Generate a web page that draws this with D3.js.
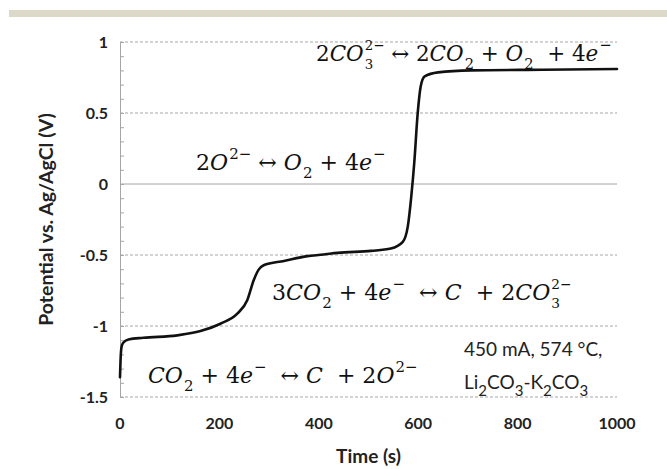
<!DOCTYPE html>
<html>
<head>
<meta charset="utf-8">
<script src="https://cdn.jsdelivr.net/npm/d3@7"></script>
<style>
  body { margin: 0; background: #fff; }
  svg { display: block; }
  text { white-space: pre; }
</style>
</head>
<body>
<div class="chart"></div>
<script>
// values
const timeS = [0, 1, 3, 6, 17, 47, 115, 162, 202, 236, 256, 269, 279, 289, 330, 377, 410, 425, 438, 505, 545, 569, 579, 586, 592, 599, 605, 613, 640, 707, 850, 1000];
const potentialV = [-1.36, -1.25, -1.15, -1.12, -1.095, -1.083, -1.066, -1.036, -0.984, -0.913, -0.819, -0.678, -0.603, -0.572, -0.542, -0.508, -0.497, -0.49, -0.485, -0.471, -0.454, -0.407, -0.30, -0.09, 0.146, 0.499, 0.687, 0.758, 0.786, 0.80, 0.805, 0.81];
const xTicks = [0, 200, 400, 600, 800, 1000];
const yTicks = [1, 0.5, 0, -0.5, -1, -1.5];
const yTickLabels = ["1", "0.5", "0", "-0.5", "-1", "-1.5"];
const xTitle = "Time (s)";
const yTitle = "Potential vs. Ag/AgCl (V)";

const W = 667, H = 469;
const margin = { top: 42, right: 50, bottom: 72, left: 120 };

const svg = d3.select(".chart").append("svg")
  .attr("width", W).attr("height", H);

// beige strip on top
svg.append("rect").attr("x", 9).attr("y", 10).attr("width", W - 9).attr("height", 7)
  .attr("fill", "#ddd9c8");

const xScale = d3.scaleLinear().domain([0, 1000]).range([margin.left, W - margin.right]);
const yScale = d3.scaleLinear().domain([-1.5, 1]).range([H - margin.bottom, margin.top]);

// gridlines
svg.append("g").selectAll("line").data(yTicks).join("line")
  .attr("x1", xScale(0)).attr("x2", xScale(1000))
  .attr("y1", d => yScale(d)).attr("y2", d => yScale(d))
  .attr("stroke", "#a6a6a6").attr("stroke-width", 1)
  .attr("stroke-dasharray", d => d === 0 ? null : "3,2");

// y axis with minor ticks on the inside
const yAxis = d3.axisRight(yScale).tickValues(d3.range(-15, 11).map(d => d / 10))
  .tickSize(4).tickFormat("");
svg.append("g").attr("transform", `translate(${xScale(0)},0)`).call(yAxis)
  .call(g => g.select(".domain").attr("stroke", "#a6a6a6"))
  .call(g => g.selectAll(".tick line").attr("stroke", "#a6a6a6"));

svg.append("g").selectAll("text").data(yTicks).join("text")
  .attr("x", 108).attr("y", d => yScale(d)).attr("dy", "0.35em")
  .attr("text-anchor", "end")
  .style("font-family", "Lato, sans-serif").style("font-weight", "bold").style("font-size", "16px")
  .attr("fill", "#222")
  .text((d, i) => yTickLabels[i]);

svg.append("g").selectAll("text").data(xTicks).join("text")
  .attr("x", d => xScale(d)).attr("y", 429)
  .attr("text-anchor", "middle")
  .style("font-family", "Lato, sans-serif").style("font-weight", "bold").style("font-size", "16px")
  .attr("fill", "#222")
  .text(d => d);

svg.append("text")
  .attr("x", xScale(500)).attr("y", 463).attr("text-anchor", "middle")
  .style("font-family", "Lato, sans-serif").style("font-weight", "bold").style("font-size", "19px")
  .attr("fill", "#222").text(xTitle);

svg.append("text")
  .attr("transform", `translate(53,${yScale(-0.25)}) rotate(-90)`)
  .attr("text-anchor", "middle")
  .style("font-family", "Lato, sans-serif").style("font-weight", "bold").style("font-size", "19.5px")
  .attr("fill", "#222").text(yTitle);

// the curve
const line = d3.line().x(d => xScale(d[0])).y(d => yScale(d[1])).curve(d3.curveMonotoneX);
svg.append("path").datum(d3.zip(timeS, potentialV))
  .attr("d", line).attr("fill", "none").attr("stroke", "#111")
  .attr("stroke-width", 2.6).attr("stroke-linejoin", "round").attr("stroke-linecap", "round");

// equations, Cambria-Math-like: italic letters, upright digits
function eq(parts, x0, base, targetW) {
  const g = svg.append("g").attr("transform", `translate(${x0},${base})`);
  function layout(fs) {
    g.selectAll("*").remove();
    let x = 0;
    const put = (s, dx, dy, size, it) => {
      const t = g.append("text").attr("x", x + dx).attr("y", dy)
        .style("font-family", "'DejaVu Serif', serif").style("font-size", size + "px")
        .style("font-style", it ? "italic" : "normal").attr("fill", "#111").text(s);
      return t.node().getComputedTextLength();
    };
    for (const p of parts) {
      if (p.t !== undefined) {
        x += put(p.t, 0, 0, fs, p.i);
      } else {
        // stacked scripts: keep sup and sub apart
        const small = fs * (p.sub && p.sup ? 0.62 : 0.68);
        let w1 = 0, w2 = 0;
        if (p.sub) w1 = put(p.sub, 1, fs * 0.36, small, false);
        if (p.sup) w2 = put(p.sup, 1, -fs * 0.5, small, false);
        x += Math.max(w1, w2) + 1;
      }
    }
    return x;
  }
  const w = layout(20);
  layout(20 * targetW / w);
}

const N = s => ({ t: s });
const I = s => ({ t: s, i: 1 });

eq([N("2"), I("CO"), { sub: "3", sup: "2−" }, N(" ↔ 2"), I("CO"), { sub: "2" }, N(" + "), I("O"), { sub: "2" },
  N("  + 4"), I("e"), { sup: "−" }], 316, 61, 296);
eq([N("2"), I("O"), { sup: "2−" }, N(" ↔ "), I("O"), { sub: "2" }, N(" + 4"), I("e"), { sup: "−" }], 196, 170, 190);
eq([N("3"), I("CO"), { sub: "2" }, N(" + 4"), I("e"), { sup: "−" }, N("  ↔ "), I("C"), N("  + 2"), I("CO"),
  { sub: "3", sup: "2−" }], 272, 300, 300);
eq([I("CO"), { sub: "2" }, N(" + 4"), I("e"), { sup: "−" }, N("  ↔ "), I("C"), N("  + 2"), I("O"), { sup: "2−" }],
  148, 383, 270);

// conditions
const cond = svg.append("g").style("font-family", "Lato, sans-serif").style("font-size", "19px").attr("fill", "#222");
cond.append("text").attr("x", 464).attr("y", 356).text("450 mA, 574 °C,");
const t2 = cond.append("text").attr("x", 464).attr("y", 389);
[["Li", 0], ["2", 1], ["CO", 0], ["3", 1], ["-K", 0], ["2", 1], ["CO", 0], ["3", 1]].forEach(([s, sub]) => {
  t2.append("tspan").attr("dy", sub ? 7 : -7).style("font-size", sub ? "15px" : "19px").text(s);
});
t2.select("tspan").attr("dy", 0);
</script>
</body>
</html>
